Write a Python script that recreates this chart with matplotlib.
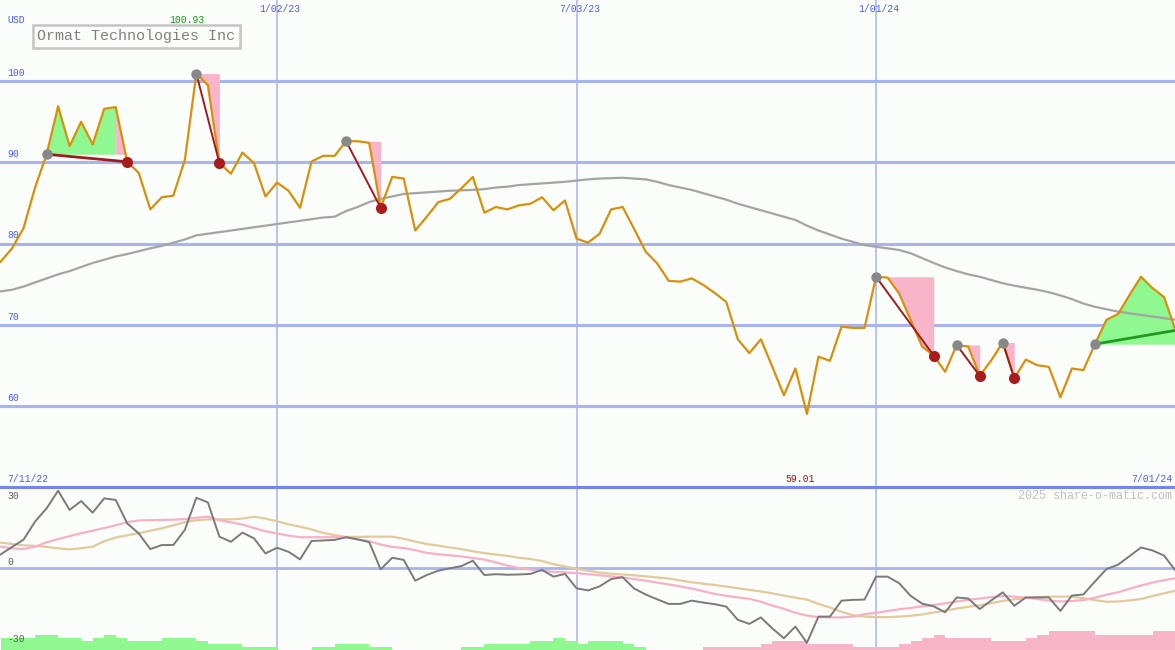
import numpy as np
import pandas as pd
import matplotlib
matplotlib.use("Agg")
import matplotlib.pyplot as plt
import matplotlib.dates as mdates

plt.rcParams['font.family'] = ['Liberation Mono', 'DejaVu Sans Mono']

# weekly closes, 18 Jul 2022 .. 1 Jul 2024
weeks = pd.date_range("2022-07-18", periods=103, freq="7D")

price = [
    77.75, 79.4, 81.9, 86.9, 91.0, 96.9, 92.0, 95.0, 92.2, 96.6,
    96.8, 90.06, 88.7, 84.2, 85.7, 85.9, 90.3, 100.93, 99.5, 89.9,
    88.6, 91.2, 89.9, 85.8, 87.5, 86.5, 84.4, 90.1, 90.8, 90.8,
    92.6, 92.6, 92.4, 84.4, 88.2, 88.0, 81.6, 83.3, 85.1, 85.5,
    86.8, 88.2, 83.8, 84.5, 84.2, 84.7, 84.9, 85.7, 84.1, 85.3,
    80.6, 80.1, 81.2, 84.2, 84.5, 81.8, 79.0, 77.55, 75.4, 75.3,
    75.7, 74.9, 73.9, 72.8, 68.2, 66.5, 68.2, 64.8, 61.3, 64.6,
    59.01, 66.05, 65.55, 69.75, 69.6, 69.6, 75.9, 75.8, 73.85, 70.6,
    67.3, 66.2, 64.2, 67.5, 67.3, 63.7, 65.6, 67.8, 63.4, 65.7,
    65.0, 64.8, 61.05, 64.6, 64.4, 67.6, 70.6, 71.3, 73.65, 75.9,
    74.5, 73.4, 69.3,
]

ma_long = [
    74.1, 74.3, 74.7, 75.2, 75.7, 76.2, 76.6, 77.1, 77.6, 78.0,
    78.4, 78.7, 79.05, 79.4, 79.7, 80.1, 80.5, 81.0, 81.2, 81.4,
    81.6, 81.8, 82.0, 82.2, 82.4, 82.6, 82.8, 83.0, 83.2, 83.3,
    84.0, 84.5, 85.1, 85.5, 85.8, 86.1, 86.2, 86.3, 86.4, 86.5,
    86.55, 86.6, 86.7, 86.9, 87.0, 87.2, 87.3, 87.4, 87.5, 87.6,
    87.75, 87.9, 88.0, 88.05, 88.1, 88.0, 87.9, 87.6, 87.2, 86.9,
    86.6, 86.2, 85.8, 85.4, 84.9, 84.5, 84.1, 83.7, 83.3, 82.9,
    82.2, 81.6, 81.1, 80.6, 80.2, 79.8, 79.6, 79.4, 79.2, 78.8,
    78.2, 77.6, 77.05, 76.6, 76.2, 75.9, 75.5, 75.1, 74.8, 74.55,
    74.3, 74.0, 73.6, 73.15, 72.6, 72.2, 71.9, 71.6, 71.4, 71.2,
    71.0, 70.8, 70.6,
]

osc = [
    5.0, 7.8, 10.5, 17.2, 22.1, 28.6, 21.5, 24.8, 20.5, 25.8,
    25.2, 16.5, 12.8, 7.0, 8.5, 8.5, 14.1, 26.0, 24.3, 11.6,
    9.7, 13.1, 11.0, 5.4, 7.5, 6.0, 3.2, 10.0, 10.2, 10.4,
    11.4, 10.6, 9.6, -0.5, 3.8, 3.0, -4.7, -2.6, -1.0, -0.1,
    0.7, 2.7, -2.6, -2.3, -2.5, -2.4, -2.2, -0.7, -3.2, -2.2,
    -7.5, -8.3, -6.8, -4.1, -3.4, -7.6, -9.8, -11.6, -13.3, -13.3,
    -12.1, -12.8, -13.4, -14.3, -19.2, -20.7, -18.3, -22.4, -26.0, -21.7,
    -27.7, -18.0, -18.0, -12.1, -11.8, -11.7, -3.2, -3.2, -5.6, -10.3,
    -13.2, -14.2, -16.4, -10.9, -11.3, -15.2, -12.0, -9.0, -14.0, -10.9,
    -10.9, -10.9, -15.9, -10.2, -9.8, -5.0, -0.4, 1.2, 4.4, 7.6,
    6.5, 4.6, -1.0,
]

osc_fast = [
    7.9, 7.3, 7.0, 7.9, 9.5, 10.7, 11.8, 12.9, 13.8, 14.8,
    15.8, 17.0, 17.6, 17.7, 17.8, 17.9, 18.1, 18.6, 19.0, 17.7,
    16.9, 16.1, 14.8, 13.6, 12.8, 12.0, 11.4, 11.4, 11.4, 11.4,
    11.4, 10.6, 9.9, 8.7, 7.8, 7.4, 6.6, 5.6, 5.1, 4.7,
    4.3, 3.7, 3.1, 2.1, 0.9, 0.0, -0.6, -1.0, -1.4, -1.6,
    -1.9, -2.3, -2.7, -3.1, -3.5, -4.1, -4.7, -5.4, -6.1, -6.8,
    -7.6, -8.6, -9.6, -10.3, -10.9, -11.4, -12.5, -13.9, -15.1, -16.6,
    -17.6, -18.2, -18.3, -18.3, -18.0, -17.1, -16.6, -15.9, -15.3, -14.8,
    -14.2, -13.7, -13.1, -12.4, -11.8, -11.3, -10.8, -10.4, -10.6, -11.0,
    -11.5, -12.1, -12.4, -12.2, -11.9, -11.0, -9.9, -9.0, -7.7, -6.5,
    -5.4, -4.5, -3.8,
]

osc_slow = [
    9.4, 8.9, 8.4, 8.2, 7.8, 7.3, 6.9, 7.3, 7.9, 9.9,
    11.3, 12.1, 12.9, 13.8, 14.7, 15.8, 17.0, 17.7, 18.0, 18.0,
    18.0, 18.3, 19.0, 18.3, 17.3, 16.2, 15.3, 14.3, 13.0, 12.2,
    11.5, 11.5, 11.6, 11.6, 11.6, 10.8, 9.8, 8.9, 8.3, 7.6,
    7.0, 6.2, 5.5, 5.0, 4.5, 3.8, 3.3, 2.6, 1.4, 0.6,
    -0.3, -1.0, -1.7, -2.1, -2.4, -2.7, -3.1, -3.5, -3.9, -4.6,
    -5.3, -5.8, -6.3, -6.9, -7.5, -8.1, -8.7, -9.4, -10.2, -11.0,
    -11.7, -13.3, -14.6, -16.2, -17.5, -18.0, -18.2, -18.2, -18.0, -17.7,
    -17.2, -16.5, -15.8, -15.0, -14.4, -13.8, -13.0, -12.2, -11.6, -11.1,
    -10.8, -10.6, -10.6, -10.6, -11.2, -11.9, -12.5, -12.4, -12.0, -11.5,
    -10.4, -9.4, -8.4,
]

# weekly histogram at the foot of the lower panel (+ green, - pink)
hist = [
    4.4, 4.4, 4.4, 5.6, 5.6, 4.4, 4.4, 3.3, 4.4, 5.6,
    4.4, 3.3, 3.3, 3.3, 4.4, 4.4, 4.4, 3.3, 2.2, 2.2,
    2.2, 1.2, 1.2, 1.2, 0, 0, 0, 1.0, 1.0, 2.2,
    2.2, 2.2, 1.0, 1.0, 0, 0, 0, 0, 0, 0,
    1.0, 1.0, 2.2, 2.2, 2.2, 2.2, 3.2, 3.2, 4.3, 3.2,
    2.2, 3.2, 3.2, 3.2, 2.2, 1.2, 0, 0, 0, 0,
    0, -1.2, -1.2, -1.2, -1.2, -1.2, -2.2, -3.2, -3.2, -3.2,
    -2.2, -2.2, -2.2, -2.2, -1.1, -1.1, -1.1, -1.1, -2.2, -3.3,
    -4.3, -5.6, -4.3, -4.3, -4.3, -4.3, -3.3, -3.3, -3.3, -4.3,
    -5.6, -6.9, -6.9, -6.9, -6.9, -5.6, -5.6, -5.6, -5.6, -5.6,
    -6.9, -6.9,
]

peaks = [4, 17, 30, 76, 83, 87, 95]
troughs = [11, 19, 33, 81, 85, 88]
falls = [(17, 19), (30, 33), (76, 81), (83, 85), (87, 88)]
rise_start, rise_top, rise_end = 4, 10, 11
last_rise = 95

grid_dates = ["2023-01-02", "2023-07-03", "2024-01-01"]
grid_labels = ["1/02/23", "7/03/23", "1/01/24"]
price_ticks = [100, 90, 80, 70, 60]
osc_ticks = [30, 0, -30]

BG = "#fbfdfb"
GRID = "#a8b4f0"
BLUE_TXT = "#4a5cf0"
GREEN_FILL = "#90f890"
PINK_FILL = "#f8b4c8"
ORANGE = "#d8900a"
DARK_RED = "#a01c1c"

price = np.array(price)
x = mdates.date2num(weeks)
ref = mdates.date2num(pd.Timestamp("2023-01-02"))
xlim = (ref - 24.045 * 7, ref + 77.95 * 7)

fig = plt.figure(figsize=(11.75, 6.5), dpi=100, facecolor=BG)
ax = fig.add_axes([0, 163 / 650, 1, 487 / 650])
ax2 = fig.add_axes([0, 0, 1, 163 / 650])
for a in (ax, ax2):
    a.set_axis_off()
    a.set_xlim(*xlim)
ax.set_ylim(50, 110)
ax2.set_ylim(-30.37, 30)

# grid
for v in price_ticks:
    ax.axhline(v, color=GRID, lw=2.2, zorder=0)
    ax.annotate(str(v), xy=(0, v), xycoords=("axes fraction", "data"),
                xytext=(7, 3), textcoords="offset pixels", va="bottom",
                ha="left", color=BLUE_TXT, fontsize=7)
for d, lab in zip(grid_dates, grid_labels):
    dn = mdates.date2num(pd.Timestamp(d))
    ax.axvline(dn, color=GRID, lw=1.1, zorder=0)
    ax2.axvline(dn, color=GRID, lw=1.1, zorder=0)
    ax.annotate(lab, xy=(dn, 1), xycoords=("data", "axes fraction"),
                xytext=(3, -9), textcoords="offset pixels", va="center",
                ha="center", color=BLUE_TXT, fontsize=7)
ax.annotate("USD", xy=(0, 1), xycoords="axes fraction", xytext=(7, -20),
            textcoords="offset pixels", va="center", ha="left",
            color=BLUE_TXT, fontsize=7)

# rise / fall shading
base = price[rise_start]
ax.fill_between(x[rise_start:rise_top + 1], price[rise_start:rise_top + 1], base,
                color=GREEN_FILL, lw=0, zorder=1)
seg = slice(rise_top, rise_end + 1)
ax.fill_between(x[seg], price[seg], base, where=price[seg] >= base,
                interpolate=True, color=PINK_FILL, lw=0, zorder=1)
for s, e in falls:
    ax.fill_between(x[s:e + 1], price[s:e + 1], price[s], color=PINK_FILL,
                    lw=0, zorder=1)
ax.fill_between(x[last_rise:], price[last_rise:], price[last_rise],
                color=GREEN_FILL, lw=0, zorder=1)

ax.plot(x, ma_long, color="#a4a4a4", lw=1.6, zorder=2)
ax.plot(x, price, color=ORANGE, lw=1.6, zorder=3)

ax.plot([x[rise_start], x[rise_end]], [price[rise_start], price[rise_end]],
        color=DARK_RED, lw=2.0, zorder=4)
for s, e in falls:
    ax.plot([x[s], x[e]], [price[s], price[e]], color=DARK_RED, lw=1.4, zorder=4)
ax.plot([x[last_rise], x[-1]], [price[last_rise], price[-1]], color="#209a20",
        lw=2.0, zorder=4)

ax.plot(x[peaks], price[peaks], "o", color="#888888", ms=7.5, mew=0, zorder=5)
ax.plot(x[troughs], price[troughs], "o", color="#a81c1c", ms=8, mew=0, zorder=5)

hi, lo = int(np.argmax(price)), int(np.argmin(price))
ax.annotate(f"{price[hi]:.2f}", xy=(x[hi], 1), xycoords=("data", "axes fraction"),
            xytext=(-9, -20), textcoords="offset pixels", ha="center",
            va="center", color="#109a10", fontsize=7)
ax.annotate(f"{price[lo]:.2f}", xy=(x[lo], 0), xycoords=("data", "axes fraction"),
            xytext=(-7, 8), textcoords="offset pixels", ha="center",
            va="center", color="#a01010", fontsize=7)
ax.annotate("7/11/22", xy=(0, 0), xycoords="axes fraction", xytext=(7, 8),
            textcoords="offset pixels", ha="left", va="center",
            color=BLUE_TXT, fontsize=7)
ax.annotate("7/01/24", xy=(1, 0), xycoords="axes fraction", xytext=(-3, 8),
            textcoords="offset pixels", ha="right", va="center",
            color=BLUE_TXT, fontsize=7)

ax.text(37, 36, "Ormat Technologies Inc", transform=None, ha="left",
        va="center", color="#808080", fontsize=10.8,
        bbox=dict(boxstyle="square,pad=0.3", fc=BG, ec="#c4c4c4", lw=1.8))
# transform=None positions from the bottom-left; flip to top-left pixels
ax.texts[-1].set_position((37, 650 - 36))

# lower panel
ax2.axhline(30, color="#7484f0", lw=2.2, zorder=3, clip_on=False)
ax2.axhline(0, color=GRID, lw=2.0, zorder=0)
hist = np.array(hist)
ax2.bar(x[:-1], np.abs(hist), width=7, align="edge", bottom=-30.37,
        color=np.where(hist >= 0, GREEN_FILL, PINK_FILL), lw=0, zorder=1)
ax2.plot(x, osc_slow, color="#e2ca9a", lw=1.6, zorder=2)
ax2.plot(x, osc_fast, color="#f8b0c8", lw=1.6, zorder=2)
ax2.plot(x, osc, color="#7a7a7a", lw=1.4, zorder=3)

for v, dy in zip(osc_ticks, (-9, 6, 10)):
    ax2.annotate(str(v), xy=(0, v), xycoords=("axes fraction", "data"),
                 xytext=(7, dy), textcoords="offset pixels", ha="left",
                 va="center", color="#606060", fontsize=7)
ax2.annotate("2025 share-o-matic.com", xy=(1, 1), xycoords="axes fraction",
             xytext=(-3, -9), textcoords="offset pixels", ha="right",
             va="center", color="#c0c0c0", fontsize=8.4)

fig.savefig("out.png", dpi=100, facecolor=BG)
